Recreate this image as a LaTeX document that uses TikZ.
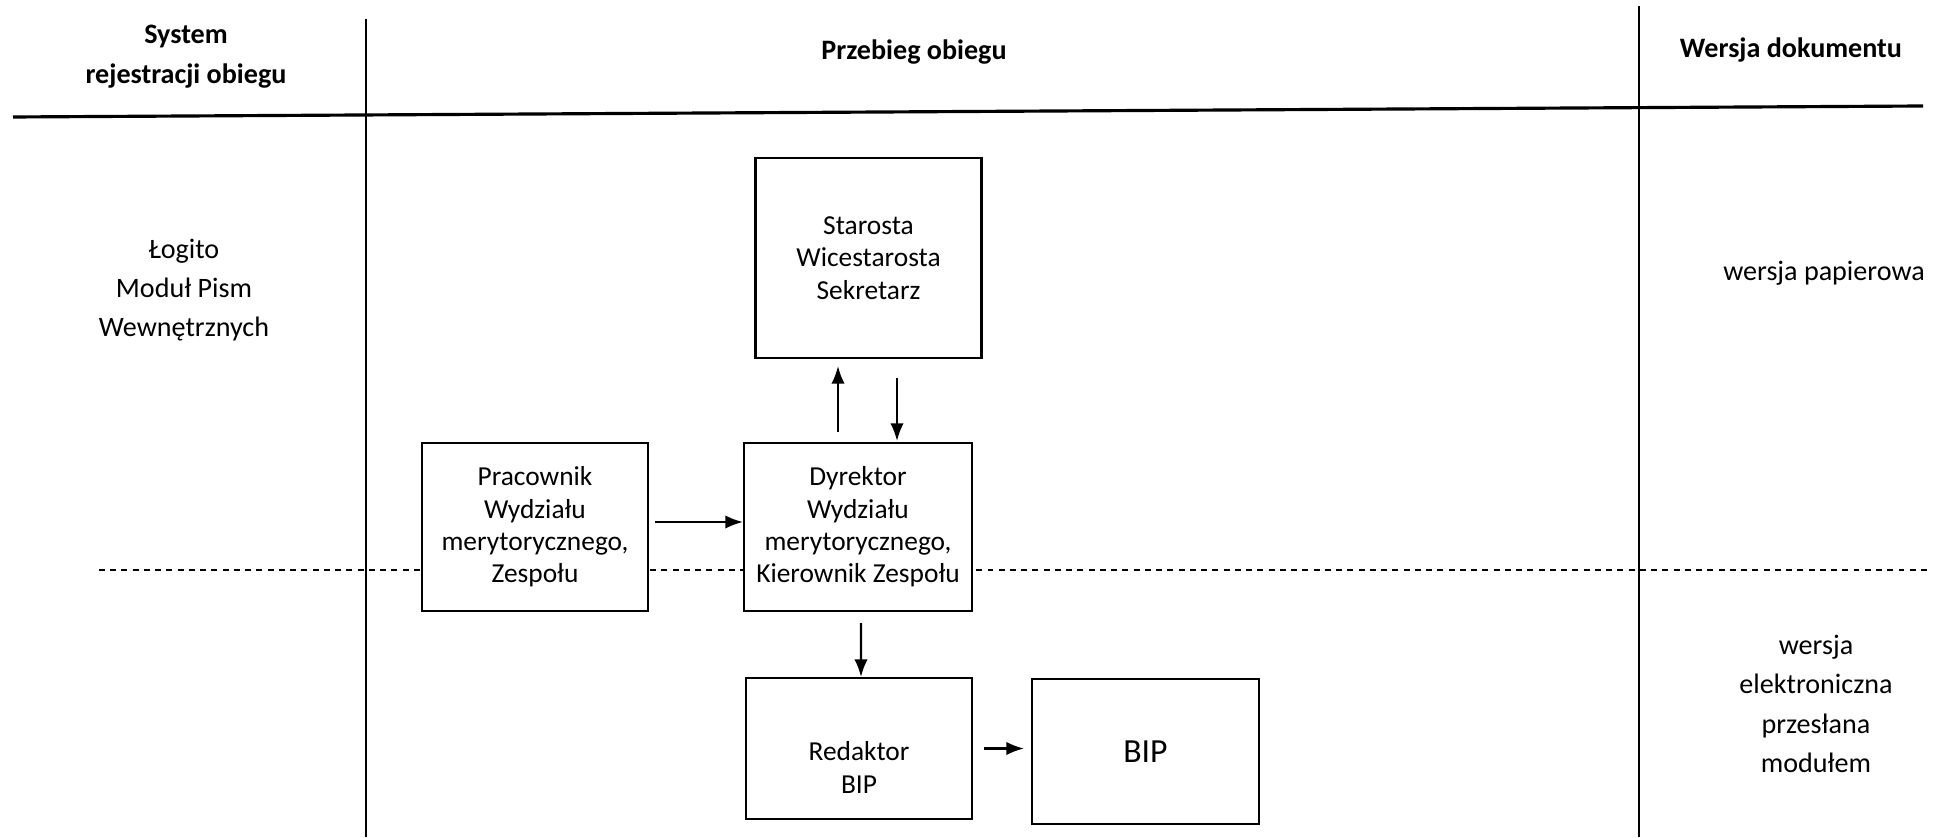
\documentclass[tikz,border=0pt]{standalone}
\usepackage{fontspec}
\setmainfont{Carlito}
\usetikzlibrary{arrows.meta}
\begin{document}
\begin{tikzpicture}
\tikzset{frameline/.style={line width=0.6pt,black}}
\tikzset{headline/.style={line width=0.9pt,black}}
\tikzset{laneline/.style={line width=0.5pt,black,dash pattern=on 1.7pt off 1.5pt}}

\tikzset{box/.style={
rectangle,draw,black,fill=white,line width=0.6pt,
minimum width=2.26cm,
minimum height=1.68cm,
align=center,
font=\fontsize{7.8}{9.2}\selectfont}}

\tikzset{boxtext/.style={
align=center,
font=\fontsize{7.8}{9.6}\selectfont}}

\tikzset{head/.style={
align=center,
font=\fontsize{8}{11.4}\selectfont\bfseries}}

\tikzset{side/.style={
align=center,
font=\fontsize{8}{11.2}\selectfont}}

\tikzset{flow/.style={line width=0.6pt,-{Latex[length=5pt,width=3.8pt]}}}

\useasboundingbox (0,0) rectangle (19.40,8.37);

\draw[frameline] (3.66,8.18) -- (3.66,0);
\draw[frameline] (16.39,8.31) -- (16.39,0);
\draw[headline] (0.13,7.20) -- (19.23,7.31);
\draw[laneline] (0.99,2.67) -- (19.30,2.67);

\draw
(1.86,7.80) node[head,name=hSystem] {System\\rejestracji obiegu}
(9.14,7.85) node[head,name=hPrzebieg] {Przebieg obiegu}
(17.91,7.87) node[head,name=hWersja] {Wersja dokumentu};

\draw
(1.84,5.47) node[side,name=sLogito] {Łogito\\Moduł Pism\\Wewnętrznych}
(18.24,5.64) node[side,name=sPapier] {wersja papierowa}
(18.16,1.33) node[side,name=sElektro] {wersja\\elektroniczna\\przesłana\\modułem};

\draw
(8.685,5.79) node[box,name=uStarosta,minimum height=2.0cm]
{Starosta\\Wicestarosta\\Sekretarz}
(5.35,3.10) node[box,name=uPracownik]
{Pracownik\\Wydziału\\merytorycznego,\\Zespołu}
(8.58,3.10) node[box,name=uDyrektor,minimum width=2.28cm]
{Dyrektor\\Wydziału\\merytorycznego,\\Kierownik Zespołu}
(11.455,0.855) node[box,name=uBIP,minimum width=2.27cm,minimum height=1.45cm,
font=\fontsize{9.6}{11}\selectfont] {BIP};

\draw
(8.59,0.885) node[box,name=uRedaktor,minimum height=1.41cm] {}
(uRedaktor.center) ++(0,-0.19)
node[boxtext,name=tRedaktor] {Redaktor\\BIP};

\draw[flow] ([shift={(-0.2,0.1)}]uDyrektor.north)
-- ([shift={(-0.2,-0.07)}]uDyrektor.north |- uStarosta.south);
\draw[flow] ([shift={(0.39,-0.19)}]uDyrektor.north |- uStarosta.south)
-- ([shift={(0.39,0.01)}]uDyrektor.north);
\draw[flow] ([shift={(0.06,0.05)}]uPracownik.east)
-- ([yshift=0.05cm]uDyrektor.west);
\draw[flow] ([shift={(0.03,-0.11)}]uDyrektor.south)
-- ([xshift=0.02cm]uRedaktor.north);
\draw[flow] ([xshift=0.11cm]uRedaktor.east)
-- ([xshift=-0.07cm]uBIP.west |- uRedaktor.east);

\end{tikzpicture}
\end{document}
